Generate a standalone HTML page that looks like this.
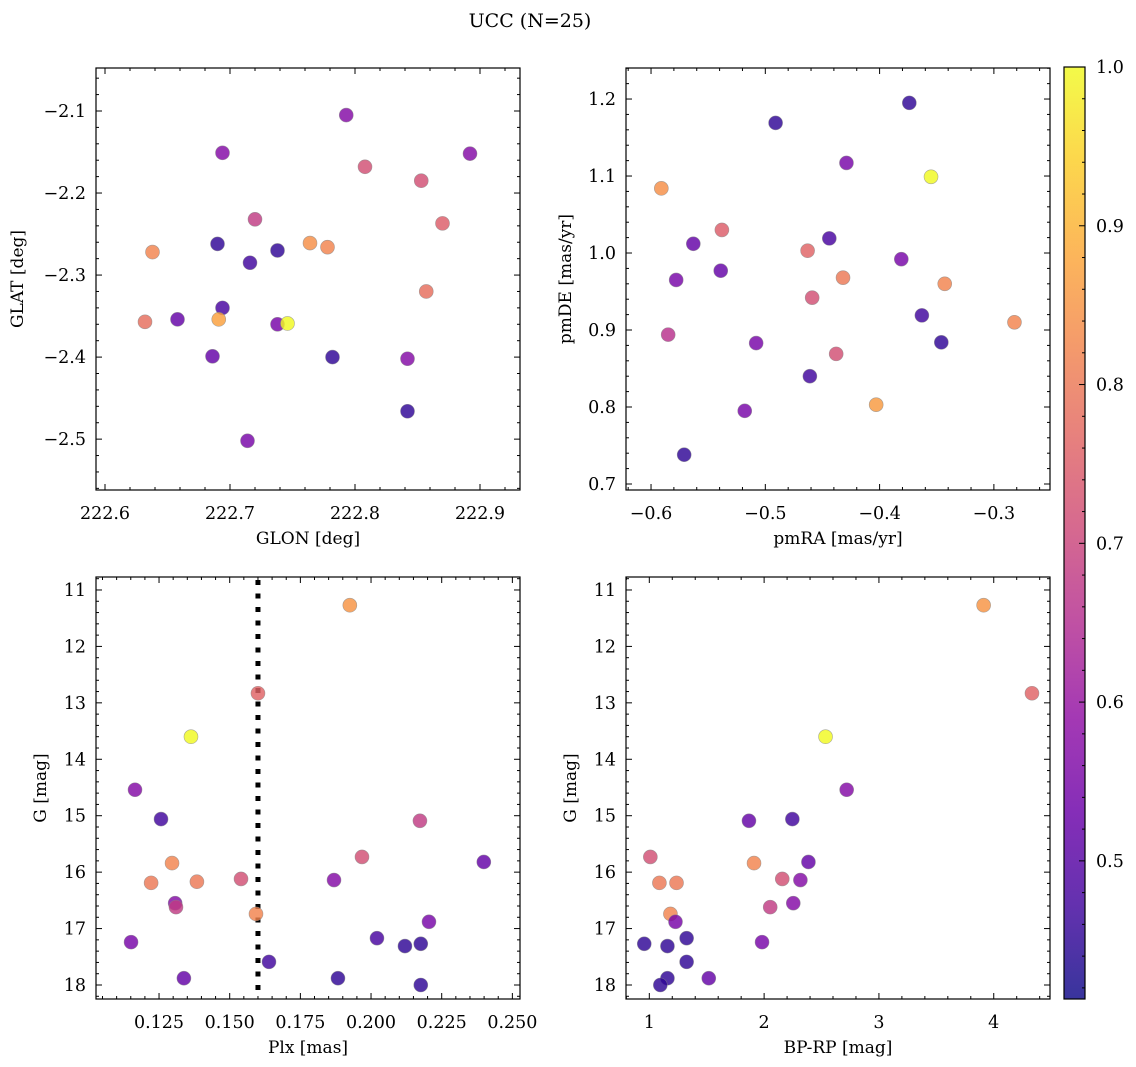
<!DOCTYPE html>
<html><head><meta charset="utf-8">
<style>
html,body{margin:0;padding:0;background:#fff;}
svg{display:block;font-family:"DejaVu Serif","Liberation Serif",serif;}
</style></head>
<body>
<svg id="fig" width="1136" height="1067" viewBox="0 0 1136 1067" xmlns="http://www.w3.org/2000/svg">
<text x="530" y="27" font-size="19" text-anchor="middle">UCC (N=25)</text>
</svg>
<script>
// ---- data ----
const glon = [222.694,222.793,222.808,222.853,222.892,222.870,222.638,222.690,222.720,222.716,222.738,222.764,222.778,222.632,222.658,222.694,222.691,222.738,222.746,222.857,222.686,222.782,222.842,222.842,222.714];
const glat = [-2.151,-2.105,-2.168,-2.185,-2.152,-2.237,-2.272,-2.262,-2.232,-2.285,-2.270,-2.261,-2.266,-2.357,-2.354,-2.340,-2.354,-2.360,-2.359,-2.320,-2.399,-2.400,-2.402,-2.466,-2.502];
const probA = [0.57,0.57,0.72,0.72,0.57,0.75,0.82,0.45,0.68,0.47,0.45,0.84,0.82,0.78,0.52,0.48,0.87,0.55,1.0,0.78,0.52,0.45,0.57,0.45,0.55];

const pmra = [-0.374,-0.491,-0.429,-0.355,-0.591,-0.563,-0.538,-0.463,-0.444,-0.578,-0.539,-0.432,-0.459,-0.381,-0.343,-0.363,-0.346,-0.282,-0.585,-0.508,-0.438,-0.461,-0.403,-0.518,-0.571];
const pmde = [1.195,1.169,1.117,1.099,1.084,1.012,1.030,1.003,1.019,0.965,0.977,0.968,0.942,0.992,0.960,0.919,0.884,0.910,0.894,0.883,0.869,0.840,0.803,0.795,0.738];
const probB = [0.45,0.45,0.55,1.0,0.84,0.52,0.75,0.76,0.48,0.55,0.52,0.80,0.72,0.55,0.82,0.47,0.45,0.82,0.66,0.55,0.72,0.47,0.86,0.55,0.45];

const plx = [0.1925,0.1600,0.1363,0.1165,0.1257,0.2173,0.1968,0.2399,0.1296,0.1222,0.1384,0.1540,0.1869,0.1307,0.1310,0.1593,0.2205,0.1151,0.2021,0.2120,0.2176,0.1639,0.1338,0.1883,0.2176];
const gmagC = [11.27,12.83,13.60,14.54,15.06,15.09,15.73,15.82,15.84,16.19,16.17,16.12,16.14,16.55,16.62,16.74,16.88,17.24,17.17,17.31,17.27,17.59,17.88,17.88,18.00];
const probC = [0.85,0.76,1.0,0.57,0.47,0.68,0.72,0.52,0.82,0.80,0.80,0.72,0.57,0.57,0.68,0.82,0.55,0.55,0.48,0.45,0.45,0.47,0.52,0.45,0.45];
const plxLine = [0.16];

const bprp = [3.912,4.333,2.535,2.719,1.868,2.246,1.009,2.386,1.912,1.088,1.237,2.158,2.316,2.053,2.254,1.184,1.228,1.982,1.325,0.956,1.158,1.325,1.518,1.158,1.096];
const gmagD = [11.27,12.83,13.60,14.54,15.09,15.06,15.73,15.82,15.84,16.19,16.19,16.12,16.14,16.62,16.55,16.74,16.88,17.24,17.17,17.27,17.31,17.59,17.88,17.88,18.00];
const probD = [0.85,0.76,1.0,0.57,0.52,0.47,0.72,0.52,0.82,0.80,0.80,0.72,0.57,0.68,0.57,0.82,0.55,0.55,0.45,0.45,0.45,0.45,0.52,0.45,0.45];

const ticksA_x = [222.6,222.7,222.8,222.9];
const ticksA_y = [-2.1,-2.2,-2.3,-2.4,-2.5];
const ticksB_x = [-0.6,-0.5,-0.4,-0.3];
const ticksB_y = [0.7,0.8,0.9,1.0,1.1,1.2];
const ticksC_x = [0.125,0.150,0.175,0.200,0.225,0.250];
const ticksG_y = [11,12,13,14,15,16,17,18];
const ticksD_x = [1,2,3,4];
const ticksCbar = [0.5,0.6,0.7,0.8,0.9,1.0];

const NS = "http://www.w3.org/2000/svg";
const svg = document.getElementById('fig');
const VMIN = 0.413, VMAX = 1.0;
const stops = ["#0d0887","#41049d","#6a00a8","#8f0da4","#b12a90","#cc4778","#e16462","#f2844b","#fca636","#fcce25","#f0f921"];
function hex(h){return [parseInt(h.substr(1,2),16),parseInt(h.substr(3,2),16),parseInt(h.substr(5,2),16)];}
function plasma(t){
  t=Math.max(0,Math.min(1,t)); const f=t*10, i=Math.min(9,Math.floor(f)), r=f-i;
  const a=hex(stops[i]), b=hex(stops[i+1]);
  return 'rgb('+a.map((v,k)=>Math.round(v+(b[k]-v)*r)).join(',')+')';
}
function mk(tag, attrs, parent){
  const e=document.createElementNS(NS,tag);
  for(const k in attrs) e.setAttribute(k,attrs[k]);
  (parent||svg).appendChild(e); return e;
}
function fmt(v,d){let s=v.toFixed(d); return s.replace('-','\u2212');}
const TFS = 17.5, LFS = 17;

function panel(cfg){
  const g=mk('g',{});
  
  
  const {x0,x1,y0,y1,xmin,xmax,ymin,ymax}=cfg;
  const sx=v=>x0+(v-xmin)/(xmax-xmin)*(x1-x0);
  const sy=v=>y1-(v-ymin)/(ymax-ymin)*(y1-y0);
  if(cfg.vline){
    const vl=mk('line',{x1:sx(cfg.vline[0]),x2:sx(cfg.vline[0]),y1:y0+3,y2:y1,stroke:'#000','stroke-width':5,'stroke-dasharray':'5 8.5'},g);
    
    
  }
  for(let i=0;i<cfg.xs.length;i++){
    const c=mk('circle',{cx:sx(cfg.xs[i]),cy:sy(cfg.ys[i]),r:7,fill:plasma((cfg.ps[i]-VMIN)/(VMAX-VMIN)),'fill-opacity':0.82,stroke:'#888','stroke-opacity':0.7,'stroke-width':0.6},g);
    
    
  }
  const fr=mk('rect',{x:x0,y:y0,width:x1-x0,height:y1-y0,fill:'none',stroke:'#000','stroke-width':1.2},g);
  
  
  const xstep=cfg.xt[1]-cfg.xt[0], mstep=xstep/5;
  for(let k=-20;k<=200;k++){
    const v=cfg.xt[0]+k*mstep; if(v<Math.min(xmin,xmax)-1e-9||v>Math.max(xmin,xmax)+1e-9) continue;
    const X=sx(v), major=(Math.abs(k%5)===0), L=major?6:3;
    mk('line',{x1:X,x2:X,y1:y1,y2:y1-L,stroke:'#000','stroke-width':1},g);
    mk('line',{x1:X,x2:X,y1:y0,y2:y0+L,stroke:'#000','stroke-width':1},g);
  }
  cfg.xt.forEach(v=>{
    const t=mk('text',{x:sx(v),y:y1+29,'font-size':TFS,'text-anchor':'middle'},g);
    t.textContent=fmt(v,cfg.xd);
    
    
  });
  const ystep=cfg.yt[1]-cfg.yt[0], ymstep=ystep/5;
  for(let k=-60;k<=200;k++){
    const v=cfg.yt[0]+k*ymstep; if(v<Math.min(ymin,ymax)-1e-9||v>Math.max(ymin,ymax)+1e-9) continue;
    const Y=sy(v), major=(Math.abs(k%5)===0), L=major?6:3;
    mk('line',{x1:x0,x2:x0+L,y1:Y,y2:Y,stroke:'#000','stroke-width':1},g);
    mk('line',{x1:x1,x2:x1-L,y1:Y,y2:Y,stroke:'#000','stroke-width':1},g);
  }
  cfg.yt.forEach(v=>{
    const t=mk('text',{x:x0-10,y:sy(v)+6,'font-size':TFS,'text-anchor':'end'},g);
    t.textContent=fmt(v,cfg.yd);
    
    
  });
  const xl=mk('text',{x:(x0+x1)/2,y:y1+54,'font-size':LFS,'text-anchor':'middle'},g);
  xl.textContent=cfg.xlabel;
  
  
  const yx=cfg.ylx, yy=(y0+y1)/2;
  const yl=mk('text',{x:yx,y:yy,'font-size':LFS,'text-anchor':'middle',transform:'rotate(-90 '+yx+' '+yy+')'},g);
  yl.textContent=cfg.ylabel;
  
  
}

panel({name:'glon-glat-panel',x0:96,x1:520,y0:68,y1:490,xmin:222.5928,xmax:222.932,ymin:-2.562,ymax:-2.0476,
  xs:glon,ys:glat,ps:probA,xt:ticksA_x,yt:ticksA_y,xd:1,yd:1,xlabel:'GLON [deg]',ylabel:'GLAT [deg]',ylx:23});
panel({name:'proper-motion-panel',x0:626,x1:1050,y0:68,y1:490,xmin:-0.6219,xmax:-0.2509,ymin:0.6922,ymax:1.2403,
  xs:pmra,ys:pmde,ps:probB,xt:ticksB_x,yt:ticksB_y,xd:1,yd:1,xlabel:'pmRA [mas/yr]',ylabel:'pmDE [mas/yr]',ylx:571});
panel({name:'parallax-mag-panel',x0:96,x1:520,y0:577,y1:999,xmin:0.1027,xmax:0.2527,ymin:18.248,ymax:10.770,
  xs:plx,ys:gmagC,ps:probC,xt:ticksC_x,yt:ticksG_y,xd:3,yd:0,xlabel:'Plx [mas]',ylabel:'G [mag]',ylx:46,vline:plxLine});
panel({name:'cmd-panel',x0:626,x1:1050,y0:577,y1:999,xmin:0.797,xmax:4.49,ymin:18.248,ymax:10.770,
  xs:bprp,ys:gmagD,ps:probD,xt:ticksD_x,yt:ticksG_y,xd:0,yd:0,xlabel:'BP-RP [mag]',ylabel:'G [mag]',ylx:576});

(function(){
  const cx0=1064,cx1=1085,cy0=67,cy1=999;
  const cg=mk('g',{});
  
  
  const defs=mk('defs',{},cg);
  const lg=mk('linearGradient',{id:'cb',x1:0,y1:1,x2:0,y2:0},defs);
  for(let i=0;i<=20;i++){
    const v=VMIN+(VMAX-VMIN)*i/20;
    mk('stop',{offset:(i/20),'stop-color':plasma((v-VMIN)/(VMAX-VMIN)),'stop-opacity':0.82},lg);
  }
  mk('rect',{x:cx0,y:cy0,width:cx1-cx0,height:cy1-cy0,fill:'url(#cb)',stroke:'#000','stroke-width':1.2},cg);
  const sy=v=>cy1-(v-VMIN)/(VMAX-VMIN)*(cy1-cy0);
  for(let k=-10;k<=30;k++){
    const v=0.5+k*0.02; if(v<VMIN||v>VMAX+1e-9) continue;
    const major=(Math.abs(k%5)===0), L=major?6:3, Y=sy(v);
    mk('line',{x1:cx1,x2:cx1-L,y1:Y,y2:Y,stroke:'#000','stroke-width':1},cg);
  }
  ticksCbar.forEach(v=>{
    const t=mk('text',{x:cx1+11,y:sy(v)+6,'font-size':TFS},cg);
    t.textContent=v.toFixed(1);
    
    
  });
})();
</script>
</body></html>
